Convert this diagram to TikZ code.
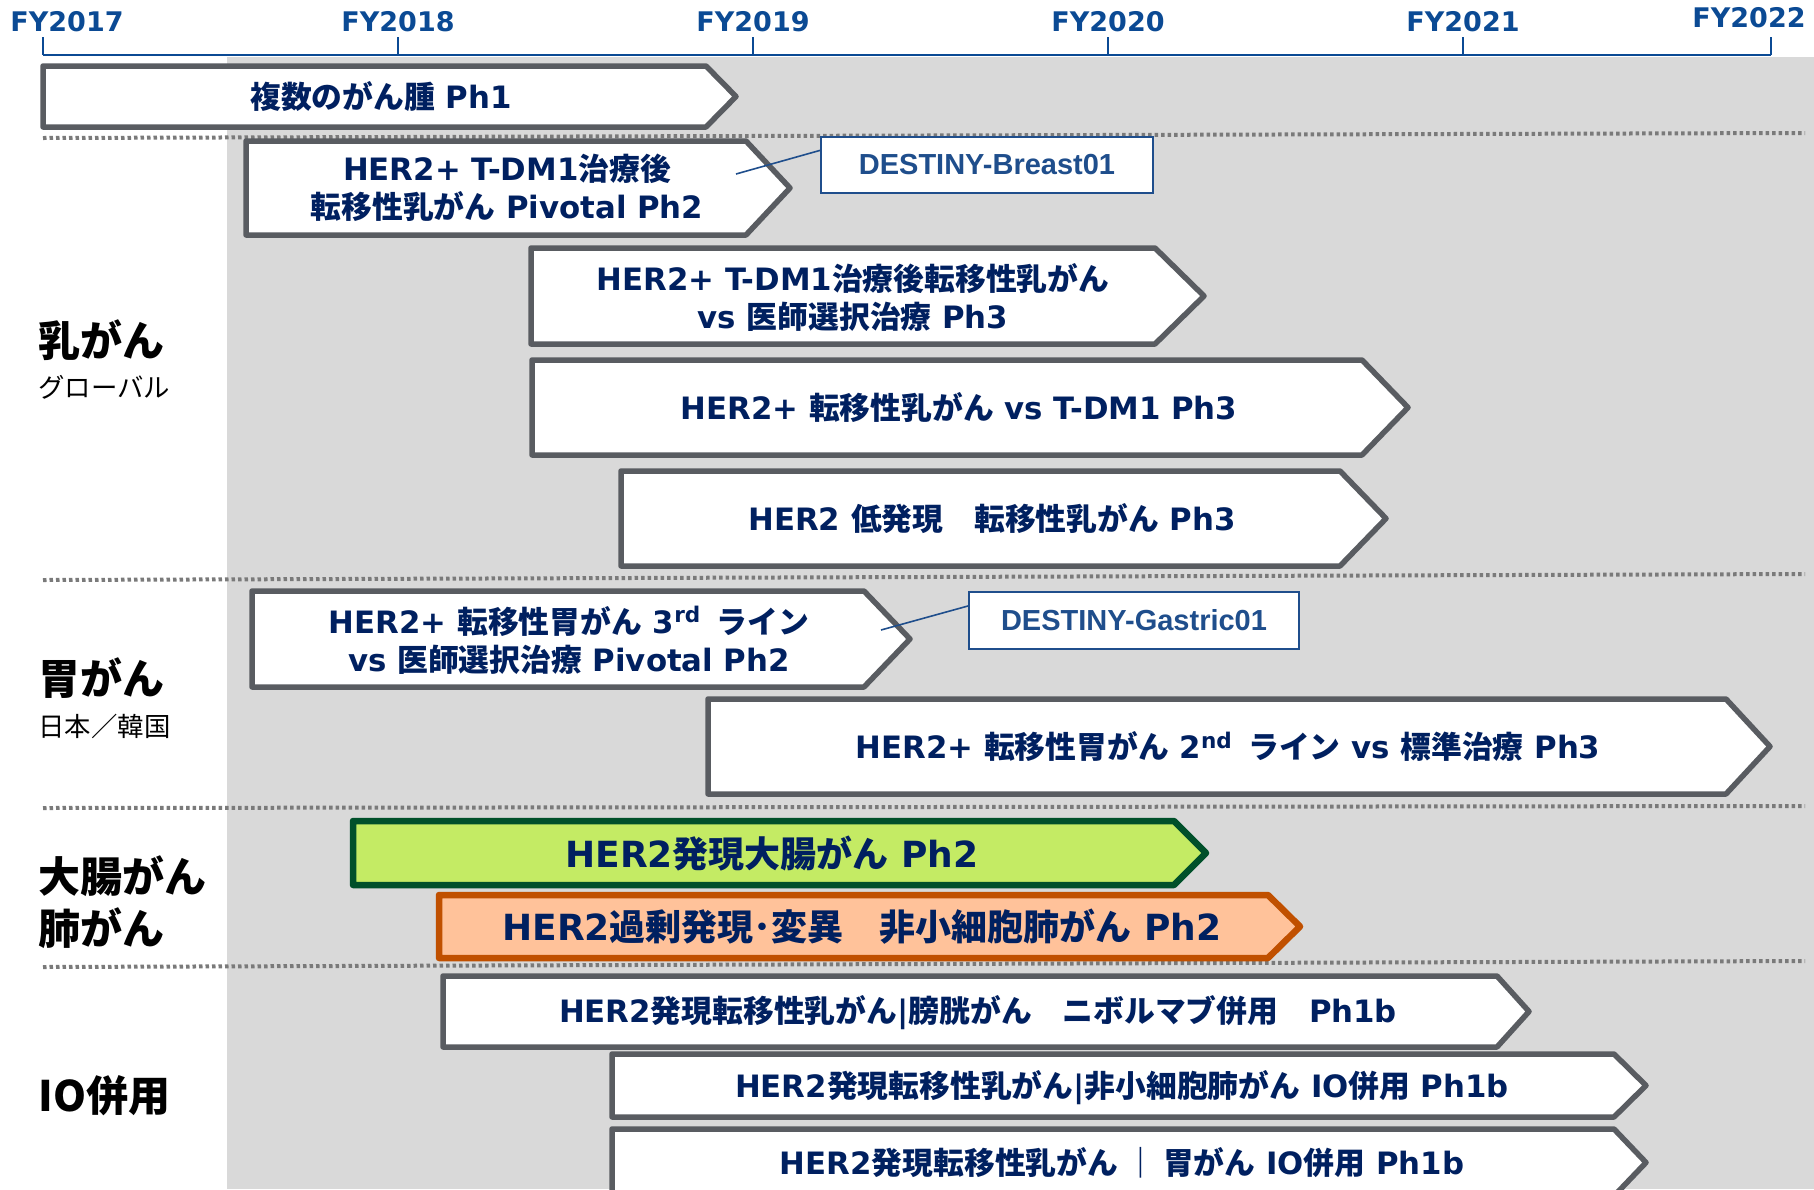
\documentclass[tikz,border=0pt]{standalone}
\usepackage{fontspec}
\setmainfont{DejaVu Sans}
\newfontfamily\jp{Noto Sans CJK JP}
\newfontfamily\trialfont{Liberation Sans}
\usepackage{tikz}

\definecolor{navy}{HTML}{002060}
\definecolor{yearblue}{HTML}{0B4A94}
\definecolor{trialblue}{HTML}{1F4E8C}
\definecolor{boxgray}{HTML}{595C61}
\definecolor{bggray}{HTML}{D9D9D9}
\definecolor{sepgray}{HTML}{7A7A7A}
\definecolor{colonfill}{HTML}{C4EB64}
\definecolor{colonline}{HTML}{00502A}
\definecolor{lungfill}{HTML}{FFC29A}
\definecolor{lungline}{HTML}{C05000}

\newcommand{\J}[1]{{\jp #1}}
% chevron: style, left, top, body end, tip, bottom
\newcommand{\stagebar}[6][stage]{%
  \draw[#1] (#2,#3) -- (#4,#3) -- (#5,{(#3+#6)/2}) -- (#4,#6) -- (#2,#6) -- cycle;}

\tikzset{
  stage/.style = {draw=boxgray, line width=2.75pt, fill=white, line join=round},
  colonstage/.style = {stage, draw=colonline, fill=colonfill, line width=3.25pt},
  lungstage/.style = {stage, draw=lungline, fill=lungfill, line width=3.25pt},
  stagetext/.style = {align=center, inner sep=0pt, text=navy, font=\bfseries\fontsize{15.4}{19}\selectfont},
  bigtext/.style = {stagetext, font=\bfseries\fontsize{18}{22}\selectfont},
  trial/.style = {draw=trialblue, line width=1pt, fill=white, text=trialblue, inner sep=0pt, font=\trialfont\bfseries\fontsize{14.5}{17}\selectfont},
  link/.style = {draw=trialblue, line width=0.8pt},
  year/.style = {text=yearblue, inner sep=0pt, font=\bfseries\fontsize{13.5}{16}\selectfont},
  axis/.style = {draw=yearblue, line width=1.3pt},
  area/.style = {anchor=west, inner sep=0pt, font=\jp\bfseries\fontsize{21}{24}\selectfont},
  region/.style = {anchor=west, inner sep=0pt, font=\jp\fontsize{13.2}{16}\selectfont},
  sep/.style = {draw=sepgray, line width=2pt, dash pattern=on 1.75pt off 1.5pt},
}

\begin{document}
\begin{tikzpicture}[x=0.5pt, y=-0.5pt]
\useasboundingbox (0,0) rectangle (1814,1189);
\clip (0,0) rectangle (1814,1189);
\fill[white] (0,0) rectangle (1814,1189);
\fill[bggray] (227,57) rectangle (1814,1189);

% time axis
\draw[axis] (43,55) -- (1771,55);
\foreach \x in {43,398,753,1108,1463,1771}
  \draw[axis] (\x,37) -- (\x,55);
\node[year] (fy2017) at (67,21.5) {FY2017};
\node[year] (fy2018) at (398,21.5) {FY2018};
\node[year] (fy2019) at (753,21.5) {FY2019};
\node[year] (fy2020) at (1108,21.5) {FY2020};
\node[year] (fy2021) at (1463,21.5) {FY2021};
\node[year] (fy2022) at (1749,17.5) {FY2022};

\draw[sep] (43,138) -- (1805,133);
\draw[sep] (43,580) -- (1805,574);
\draw[sep] (43,808) -- (1805,806);
\draw[sep] (43,967) -- (1805,961);

% areas
\node[area] (breast) at (38,340) {乳がん};
\node[region] (global) at (38,387) {グローバル};
\node[area] (gastric) at (38,678) {胃がん};
\node[region] (jpkr) at (38,726) {日本／韓国};
\node[area] (colon) at (38,876) {大腸がん};
\node[area] (lung) at (38,928) {肺がん};
\node[area] (io) at (38,1096) {IO併用};

% studies
\stagebar{43}{66}{706}{736}{127}
\node[stagetext] (s1) at (381,97) {\J{複数のがん腫} Ph1};
\stagebar{246}{141}{746}{790}{235}
\node[stagetext] (s2) at (507,188) {HER2+ T-DM1\J{治療後}\\\J{転移性乳がん} Pivotal Ph2};
\stagebar{531}{248}{1155}{1204}{344}
\node[stagetext] (s3) at (853,297) {HER2+ T-DM1\J{治療後転移性乳がん}\\vs \J{医師選択治療} Ph3};
\stagebar{532}{360}{1362}{1408}{455}
\node[stagetext] (s4) at (959,408) {HER2+ \J{転移性乳がん} vs T-DM1 Ph3};
\stagebar{621}{471}{1340}{1386}{566}
\node[stagetext] (s5) at (992,519) {HER2 \J{低発現　転移性乳がん} Ph3};
\stagebar{252}{591}{864}{910}{687}
\node[stagetext] (s6) at (569,640) {HER2+ \J{転移性胃がん} 3\textsuperscript{rd}\hspace{0.5em}\J{ライン}\\vs \J{医師選択治療} Pivotal Ph2};
\stagebar{708}{699}{1726}{1770}{794}
\node[stagetext] (s7) at (1228,747) {HER2+ \J{転移性胃がん} 2\textsuperscript{nd}\hspace{0.5em}\J{ライン} vs \J{標準治療} Ph3};
\stagebar[colonstage]{353}{821}{1174}{1206}{885}
\node[bigtext] (s8) at (772,854) {HER2\J{発現大腸がん} Ph2};
\stagebar[lungstage]{439}{895}{1268}{1300}{958}
\node[bigtext] (s9) at (862,927) {HER2\J{過剰発現･変異　非小細胞肺がん} Ph2};
\stagebar{443}{976}{1497}{1529}{1047}
\node[stagetext] (s10) at (978,1013) {HER2\J{発現転移性乳がん}|\J{膀胱がん　ニボルマブ併用　}Ph1b};
\stagebar{612}{1054}{1614}{1646}{1117}
\node[stagetext] (s11) at (1122,1088) {HER2\J{発現転移性乳がん}|\J{非小細胞肺がん} IO\J{併用} Ph1b};
\stagebar{612}{1129}{1614}{1646}{1196}
\node[stagetext] (s12) at (1122,1163) {HER2\J{発現転移性乳がん ｜ 胃がん} IO\J{併用} Ph1b};

% pivotal trial names
\node[trial, minimum width=166pt, minimum height=28pt] (breast01) at (987,165) {DESTINY-Breast01};
\node[trial, minimum width=165pt, minimum height=28.5pt] (gastric01) at (1134,620.5) {DESTINY-Gastric01};
\coordinate (c1) at (736,174);
\coordinate (c2) at (881,630);
\draw[link] (c1) -- (breast01.175);
\draw[link] (c2) -- (gastric01.175);
\end{tikzpicture}
\end{document}
